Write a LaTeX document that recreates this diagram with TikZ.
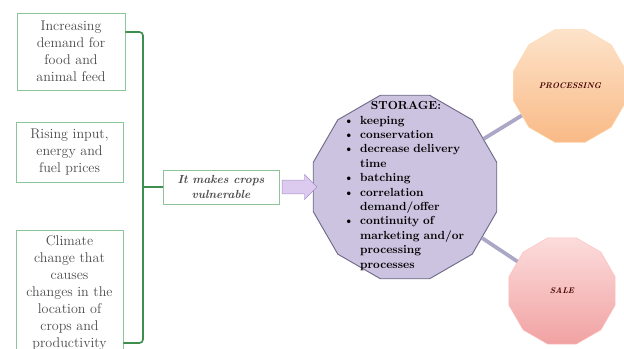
\documentclass[tikz,border=0pt]{standalone}
\usepackage{amsmath, amssymb}
\usetikzlibrary{shapes.geometric, shapes.arrows, calc, positioning}
\definecolor{boxgreen}{HTML}{8DC59B}
\definecolor{bracegreen}{HTML}{3E8E4E}
\definecolor{storfill}{HTML}{CCC3E0}
\definecolor{stordraw}{HTML}{6F6A88}
\definecolor{arrfill}{HTML}{DCCBEE}
\definecolor{arrdraw}{HTML}{A78ECB}
\definecolor{linkgray}{HTML}{ABA7C6}
\definecolor{proctop}{HTML}{FDE3CA}
\definecolor{procbot}{HTML}{F9BA86}
\definecolor{saletop}{HTML}{FCDCDC}
\definecolor{salebot}{HTML}{F1A2A2}
\newcommand{\stitem}[1]{\hangindent=0.5cm\hangafter=1\noindent\makebox[0.5cm][l]{\textbullet}#1\par}

\begin{document}
\begin{tikzpicture}[x=0.03cm, y=0.03cm,
    factor/.style={draw=boxgreen, thick, fill=white, align=center, text=black!70,
        font=\fontsize{12}{14.5}\selectfont, inner sep=2pt},
    bracket/.style={draw=bracegreen, line width=1.4pt, rounded corners=3pt},
    dodeca/.style={regular polygon, regular polygon sides=12, inner sep=0pt, text=black!75!red},
    link/.style={draw=linkgray, line width=3.2pt}]
    \clip (0,0) rectangle (624,349);
    \node[factor, minimum width=3.24cm, minimum height=2.31cm] (demand) at (71,297.5)
        {Increasing\\demand for\\food and\\animal feed};
    \node[factor, minimum width=3.21cm, minimum height=1.8cm] (prices) at (69.5,197)
        {Rising input,\\energy and\\fuel prices};
    \node[factor, minimum width=3.21cm, minimum height=3.75cm, anchor=north] (climate) at (69.5,119)
        {Climate\\change that\\causes\\changes in the\\location of\\crops and\\productivity};
    \node[factor, minimum width=3.48cm, minimum height=1.02cm,
        font=\fontsize{10}{12}\selectfont\bfseries\itshape] (vuln) at (221,162)
        {It makes crops\\vulnerable};
    \node[dodeca, minimum size=5.7cm, fill=storfill, draw=stordraw, thick] (storage) at (405,162) {};
    \node[text width=3.75cm, inner sep=0pt, align=left,
        font=\fontsize{10}{12.3}\selectfont\bfseries] (storagetxt) at (406,163) {%
        {\centering STORAGE:\par}
        \stitem{keeping}
        \stitem{conservation}
        \stitem{decrease delivery\newline time}
        \stitem{batching}
        \stitem{correlation\newline demand/offer}
        \stitem{continuity of\newline marketing and/or\newline processing\newline processes}};
    \node[dodeca, minimum size=3.5cm, draw=orange!30, top color=proctop, bottom color=procbot,
        font=\fontsize{7}{8}\selectfont\bfseries\itshape] (proc) at (570,263) {PROCESSING};
    \node[dodeca, minimum size=3.3cm, draw=red!25, top color=saletop, bottom color=salebot,
        font=\fontsize{7}{8}\selectfont\bfseries\itshape] (sale) at (562,58) {SALE};
    \node[single arrow, draw=arrdraw, fill=arrfill, minimum height=1.05cm, minimum width=0.75cm,
        inner sep=0.2cm, single arrow head extend=0.17cm] (push) at ($(vuln.east)!0.5!(storage.west)$) {};
    \coordinate (bt) at (demand.east |- 0,317);
    \coordinate (bb) at (climate.east |- 0,6);
    \coordinate (bx) at (143,162);
    \draw[bracket] (bt) -| (bx) |- (bb);
    \draw[bracket] (bx) -- (vuln.west);
    \draw[link] (storage) -- (proc);
    \draw[link] (storage) -- (sale);
\end{tikzpicture}
\end{document}
